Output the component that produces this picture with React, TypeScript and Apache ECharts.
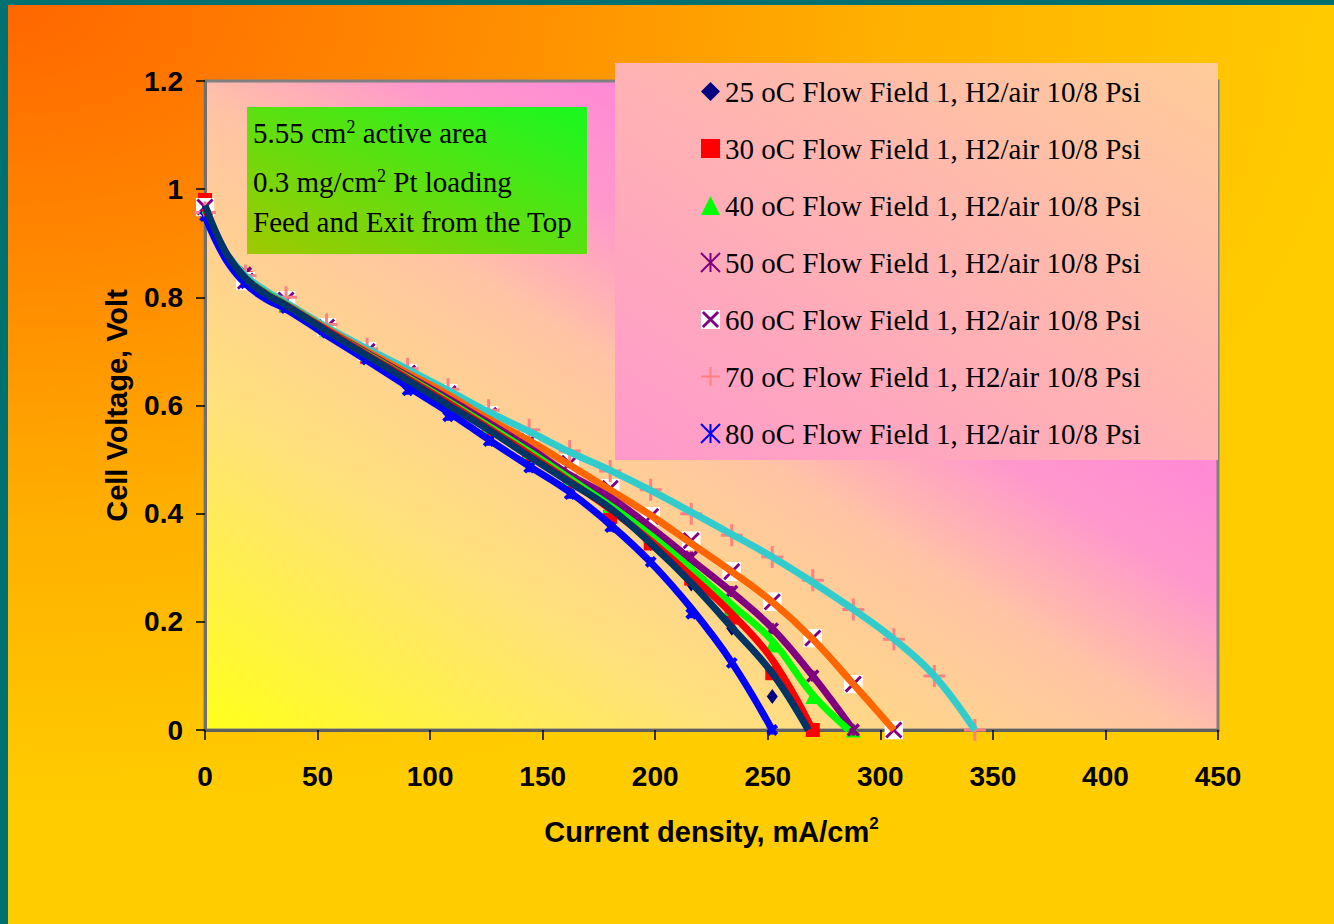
import React, { useEffect, useRef } from "react";
import * as echarts from "echarts";

// Current density (mA/cm2) steps of marker points
const I = [0, 18, 36, 54, 72, 90, 108, 126, 144, 162, 180, 198, 216, 234, 252, 270, 288, 306, 324, 342];

// Measured cell voltages (markers)
const v25 = [0.97, 0.83, 0.785, 0.74, 0.69, 0.645, 0.6, 0.552, 0.505, 0.455, 0.405, 0.345, 0.27, 0.188, 0.062];
const v30 = [0.98, 0.835, 0.785, 0.74, 0.69, 0.648, 0.604, 0.556, 0.51, 0.46, 0.394, 0.345, 0.28, 0.208, 0.105, 0];
const v40 = [0.965, 0.835, 0.787, 0.74, 0.695, 0.652, 0.61, 0.562, 0.515, 0.465, 0.415, 0.36, 0.3, 0.225, 0.157, 0.062, 0];
const v50 = [0.96, 0.845, 0.795, 0.745, 0.7, 0.658, 0.615, 0.57, 0.525, 0.475, 0.43, 0.378, 0.32, 0.256, 0.187, 0.1, 0];
const v60 = [0.967, 0.83, 0.795, 0.745, 0.7, 0.66, 0.622, 0.582, 0.534, 0.493, 0.447, 0.395, 0.35, 0.293, 0.237, 0.17, 0.085, 0];
const v70 = [0.957, 0.84, 0.8, 0.75, 0.705, 0.668, 0.63, 0.591, 0.555, 0.516, 0.479, 0.444, 0.4, 0.36, 0.32, 0.277, 0.223, 0.168, 0.1, 0];
const v80 = [0.95, 0.826, 0.78, 0.735, 0.685, 0.628, 0.58, 0.534, 0.485, 0.436, 0.375, 0.311, 0.215, 0.124, 0];

// Trendline currents and voltages
const tI25 = [0, 9, 18, 27, 36, 54, 72, 90, 108, 126, 144, 162, 180, 198, 216, 234, 252, 268];
const t25 = [0.97, 0.885, 0.835, 0.806, 0.785, 0.738, 0.692, 0.647, 0.601, 0.555, 0.506, 0.458, 0.41, 0.345, 0.272, 0.19, 0.105, 0];
const tI30 = [0, 9, 18, 27, 36, 54, 72, 90, 108, 126, 144, 162, 180, 198, 216, 234, 252, 270];
const t30 = [0.965, 0.884, 0.835, 0.806, 0.785, 0.74, 0.694, 0.65, 0.605, 0.558, 0.51, 0.46, 0.408, 0.35, 0.285, 0.215, 0.13, 0];
const tI40 = [0, 9, 18, 27, 36, 54, 72, 90, 108, 126, 144, 162, 180, 198, 216, 234, 252, 270, 286];
const t40 = [0.96, 0.882, 0.835, 0.807, 0.786, 0.74, 0.695, 0.652, 0.608, 0.562, 0.515, 0.465, 0.415, 0.36, 0.298, 0.232, 0.165, 0.065, 0];
const tI50 = [0, 9, 18, 27, 36, 54, 72, 90, 108, 126, 144, 162, 180, 198, 216, 234, 252, 270, 288];
const t50 = [0.96, 0.882, 0.835, 0.807, 0.786, 0.74, 0.697, 0.655, 0.613, 0.568, 0.522, 0.472, 0.43, 0.375, 0.315, 0.255, 0.188, 0.1, 0];
const tI60 = [0, 9, 18, 27, 36, 54, 72, 90, 108, 126, 144, 162, 180, 198, 216, 234, 252, 270, 288, 306];
const t60 = [0.96, 0.882, 0.835, 0.808, 0.787, 0.742, 0.7, 0.66, 0.62, 0.575, 0.535, 0.49, 0.444, 0.397, 0.345, 0.293, 0.237, 0.168, 0.085, 0];
const tI70 = [0, 9, 18, 27, 36, 54, 72, 90, 108, 126, 144, 162, 180, 198, 216, 234, 252, 270, 288, 306, 324, 342];
const t70 = [0.96, 0.885, 0.84, 0.812, 0.79, 0.745, 0.705, 0.667, 0.628, 0.588, 0.552, 0.514, 0.48, 0.443, 0.403, 0.362, 0.32, 0.273, 0.223, 0.168, 0.1, 0];
const tI80 = [0, 9, 18, 27, 36, 54, 72, 90, 108, 126, 144, 162, 180, 198, 216, 234, 252];
const t80 = [0.95, 0.872, 0.825, 0.797, 0.778, 0.73, 0.683, 0.635, 0.588, 0.537, 0.488, 0.44, 0.38, 0.31, 0.225, 0.125, 0];

const names = [
  "25 oC Flow Field 1, H2/air 10/8 Psi",
  "30 oC Flow Field 1, H2/air 10/8 Psi",
  "40 oC Flow Field 1, H2/air 10/8 Psi",
  "50 oC Flow Field 1, H2/air 10/8 Psi",
  "60 oC Flow Field 1, H2/air 10/8 Psi",
  "70 oC Flow Field 1, H2/air 10/8 Psi",
  "80 oC Flow Field 1, H2/air 10/8 Psi",
];

const xAxisTitle = "Current density, mA/cm{sup|2}";
const yAxisTitle = "Cell Voltage, Volt";
const boxLines = ["5.55 cm{sup|2} active area", "0.3 mg/cm{sup|2} Pt loading", "Feed and Exit from the Top"];

const svgX =
  '<svg xmlns="http://www.w3.org/2000/svg" width="20" height="20" viewBox="0 0 20 20"><rect x="0" y="0" width="20" height="20" fill="#ffffff"/><path d="M2 2L18 18M18 2L2 18" stroke="#800080" stroke-width="3"/></svg>';
const xSymbol = "image://data:image/svg+xml;charset=utf-8," + encodeURIComponent(svgX);
const starPath = "path://M0,0L10,10M10,0L0,10M5,0L5,10";
const plusPath = "path://M5,0L5,10M0,5L10,5";

const pairs = (xs: number[], ys: number[]) => ys.map((y, i) => [xs[i], y]);

export default function App() {
  const ref = useRef<HTMLDivElement>(null);

  useEffect(() => {
    if (!ref.current) return;
    const chart = echarts.init(ref.current, null, { renderer: "svg" });

    const markerDefs = [
      { v: v25, symbol: "diamond", size: [11, 15], color: "#000080", bw: 0 },
      { v: v30, symbol: "rect", size: 14, color: "#FF0000", bw: 0 },
      { v: v40, symbol: "triangle", size: 15, color: "#00FF00", bw: 0 },
      { v: v50, symbol: starPath, size: 11, color: "#800080", bw: 3.5 },
      { v: v60, symbol: xSymbol, size: 19, color: "#800080", bw: 0 },
      { v: v70, symbol: plusPath, size: 22, color: "#FF8080", bw: 3 },
      { v: v80, symbol: starPath, size: 9, color: "#0000FF", bw: 4 },
    ];
    const trendDefs = [
      { x: tI70, v: t70, color: "#33CCCC" },
      { x: tI60, v: t60, color: "#FF6600" },
      { x: tI50, v: t50, color: "#800080" },
      { x: tI40, v: t40, color: "#00FF00" },
      { x: tI30, v: t30, color: "#FF0000" },
      { x: tI80, v: t80, color: "#0000FF" },
      { x: tI25, v: t25, color: "#003366" },
    ];

    const series: any[] = [];
    markerDefs.forEach((m, k) => {
      series.push({
        type: "scatter",
        name: names[k],
        data: pairs(I, m.v),
        symbol: m.symbol,
        symbolSize: m.size,
        itemStyle: { color: m.color, borderColor: m.color, borderWidth: m.bw, opacity: 1 },
        z: 2,
        silent: true,
      });
    });
    trendDefs.forEach((t, k) => {
      series.push({
        type: "line",
        name: "trend" + k,
        data: pairs(t.x, t.v),
        symbol: "none",
        showSymbol: false,
        smooth: 0.4,
        lineStyle: { color: t.color, width: 7 },
        z: 3,
        silent: true,
      });
    });

    const sup = { fontSize: 18, fontFamily: "Liberation Serif", verticalAlign: "top", lineHeight: 31 };

    chart.setOption({
      animation: false,
      backgroundColor: "transparent",
      grid: {
        left: 205,
        top: 81,
        width: 1013,
        height: 649,
        show: true,
        backgroundColor: new echarts.graphic.LinearGradient(0, 1, 1, 0, [
          { offset: 0, color: "#FFFF1A" },
          { offset: 0.25, color: "#FFE27A" },
          { offset: 0.48, color: "#FFC4A4" },
          { offset: 0.6, color: "#FF98CC" },
          { offset: 1, color: "#FF60F0" },
        ]),
        borderColor: "#808080",
        borderWidth: 3,
      },
      xAxis: {
        type: "value",
        min: 0,
        max: 450,
        interval: 50,
        axisLine: { show: true, onZero: false, lineStyle: { color: "#606060", width: 3 } },
        axisTick: { show: true, length: 10, lineStyle: { color: "#000", width: 1.5 } },
        splitLine: { show: false },
        axisLabel: { margin: 32, fontFamily: "Liberation Sans", fontWeight: "bold", fontSize: 28, color: "#000" },
        name: xAxisTitle,
        nameLocation: "middle",
        nameGap: 85,
        nameTextStyle: {
          fontFamily: "Liberation Sans",
          fontWeight: "bold",
          fontSize: 29,
          color: "#000",
          lineHeight: 34,
          rich: { sup: { fontFamily: "Liberation Sans", fontWeight: "bold", fontSize: 17, verticalAlign: "top", lineHeight: 34, color: "#000" } },
        },
      },
      yAxis: {
        type: "value",
        min: 0,
        max: 1.2,
        interval: 0.2,
        axisLine: { show: true, onZero: false, lineStyle: { color: "#707070", width: 3 } },
        axisTick: { show: true, length: 9, lineStyle: { color: "#000", width: 1.5 } },
        splitLine: { show: false },
        axisLabel: { margin: 22, fontFamily: "Liberation Sans", fontWeight: "bold", fontSize: 28, color: "#000" },
        name: yAxisTitle,
        nameLocation: "middle",
        nameGap: 74,
        nameRotate: 90,
        nameTextStyle: { fontFamily: "Liberation Sans", fontWeight: "bold", fontSize: 29, color: "#000" },
      },
      legend: {
        data: names,
        orient: "vertical",
        left: 695,
        top: 71,
        itemGap: 26,
        itemWidth: 19,
        itemHeight: 19,
        selectedMode: false,
        textStyle: { fontFamily: "Liberation Serif", fontSize: 29, color: "#000", lineHeight: 31 },
        z: 5,
      },
      graphic: [
        {
          type: "rect",
          z: 1,
          shape: { x: 615, y: 63, width: 603, height: 397 },
          style: {
            fill: new echarts.graphic.LinearGradient(0, 1, 1, 0, [
              { offset: 0, color: "#FF99CC" },
              { offset: 1, color: "#FFCC99" },
            ]),
          },
        },
        {
          type: "rect",
          z: 1,
          shape: { x: 247, y: 107, width: 340, height: 147 },
          style: {
            fill: new echarts.graphic.LinearGradient(0, 1, 1, 0, [
              { offset: 0, color: "#A0C800" },
              { offset: 1, color: "#18F820" },
            ]),
          },
        },
        ...boxLines.map((t, k) => ({
          type: "text",
          z: 2,
          x: 253,
          y: [133, 182, 222][k],
          style: {
            text: t,
            fontFamily: "Liberation Serif",
            fontSize: 29,
            fill: "#000",
            verticalAlign: "middle",
            lineHeight: 31,
            rich: { sup },
          },
        })),
      ],
      series,
    });

    return () => chart.dispose();
  }, []);

  return (
    <div
      style={{
        position: "fixed",
        left: 0,
        top: 0,
        width: 1334,
        height: 924,
        background: "#007070",
        overflow: "hidden",
      }}
    >
      <div
        style={{
          position: "absolute",
          left: 8,
          top: 5,
          width: 1326,
          height: 919,
          background:
            "radial-gradient(ellipse 1350px 800px at 0 0, #FF6600 0%, #FF8C00 35%, #FFB000 65%, #FFCC00 100%)",
        }}
      />
      <div ref={ref} style={{ position: "absolute", left: 0, top: 0, width: 1334, height: 924 }} />
    </div>
  );
}
